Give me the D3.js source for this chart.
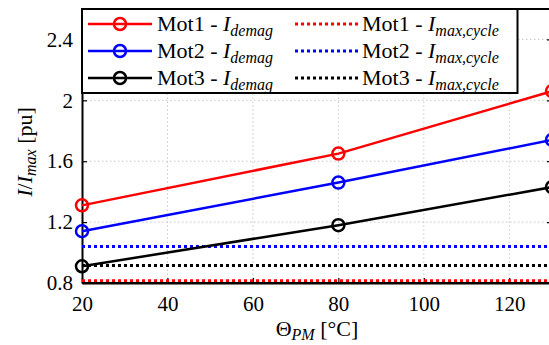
<!DOCTYPE html>
<html lang="en">
	<head>
		<meta charset="utf-8">
		<title>D3: Demag current vs PM temperature</title>
		<script src="https://d3js.org/d3.v7.min.js" charset="utf-8"></script>
		<style type="text/css">
			body { margin: 0; background: white; }
			svg text {
				font-family: "Times New Roman", Tinos, serif;
				font-size: 22px;
				fill: black;
			}
			.grid line {
				stroke: #c8c8c8;
				stroke-width: 1;
				stroke-dasharray: 1.5,2.5;
			}
			.axis path, .axis line { stroke: black; }
			.axis path { stroke-width: 2; }
			.axis line { stroke-width: 1.2; }
		</style>
	</head>
	<body>
		<script type="text/javascript">

			//Width and height
			var w = 549;
			var h = 345;
			var margin = {left: 82, right: -3, top: 9, bottom: 62};
			var serif = "'Times New Roman', Tinos, serif";

			//Data
			var temps = [20, 80, 130];
			var motors = ["Mot1", "Mot2", "Mot3"];
			var colors = ["#ff0000", "#0000ff", "#000000"];
			var demag1 = [1.31, 1.65, 2.06];
			var demag2 = [1.14, 1.46, 1.74];
			var demag3 = [0.91, 1.18, 1.43];
			var maxCycle = [0.815, 1.04, 0.915];
			var xTicks = [20, 40, 60, 80, 100, 120];
			var yTicks = [0.8, 1.2, 1.6, 2, 2.4];

			var demag = [demag1, demag2, demag3];

			var svg = d3.select("body")
						.append("svg")
						.attr("width", w)
						.attr("height", h);

			//Scales
			var xScale = d3.scaleLinear()
						   .domain([20, 130])
						   .range([margin.left, w - margin.right]);

			var yScale = d3.scaleLinear()
						   .domain([0.8, 2.6])
						   .range([h - margin.bottom, margin.top]);

			var x0 = xScale.range()[0], x1 = xScale.range()[1];
			var y0 = yScale.range()[0], y1 = yScale.range()[1];

			//Grid
			var grid = svg.append("g").attr("class", "grid");
			grid.selectAll(".gx")
				.data(xTicks.slice(1))
				.enter()
				.append("line")
				.attr("x1", function(d) { return xScale(d); })
				.attr("x2", function(d) { return xScale(d); })
				.attr("y1", y0)
				.attr("y2", y1);
			grid.selectAll(".gy")
				.data(yTicks.slice(1))
				.enter()
				.append("line")
				.attr("x1", x0)
				.attr("x2", x1)
				.attr("y1", function(d) { return yScale(d); })
				.attr("y2", function(d) { return yScale(d); });

			//Axes (ticks pointing inward)
			var xAxis = d3.axisBottom(xScale)
						  .tickValues(xTicks)
						  .tickSize(-5)
						  .tickSizeOuter(0)
						  .tickPadding(13)
						  .tickFormat(d3.format("d"));

			var yAxis = d3.axisLeft(yScale)
						  .tickValues(yTicks)
						  .tickSize(-5)
						  .tickSizeOuter(0)
						  .tickPadding(9)
						  .tickFormat(function(d) { return d === 2 ? "2" : d3.format(".1f")(d); });

			var yAxisR = d3.axisRight(yScale)
						  .tickValues(yTicks)
						  .tickSize(-5)
						  .tickSizeOuter(0)
						  .tickFormat("");

			svg.append("g")
				.attr("class", "axis")
				.attr("transform", "translate(0," + y0 + ")")
				.call(xAxis);

			svg.append("g")
				.attr("class", "axis")
				.attr("transform", "translate(" + x0 + ",0)")
				.call(yAxis);

			svg.append("g")
				.attr("class", "axis")
				.attr("transform", "translate(" + x1 + ",0)")
				.call(yAxisR);

			svg.selectAll(".axis").attr("font-family", null).attr("font-size", null);
			svg.selectAll(".axis text")
				.style("font-family", serif)
				.style("font-size", "21px");

			//Top frame line
			svg.append("line")
				.attr("x1", x0).attr("x2", x1)
				.attr("y1", y1).attr("y2", y1)
				.style("stroke", "black")
				.style("stroke-width", 2);

			//Max-cycle dotted lines
			svg.selectAll(".maxline")
				.data(maxCycle)
				.enter()
				.append("line")
				.attr("x1", x0)
				.attr("x2", x1)
				.attr("y1", function(d) { return yScale(d); })
				.attr("y2", function(d) { return yScale(d); })
				.style("stroke", function(d, i) { return colors[i]; })
				.style("stroke-width", 3)
				.style("stroke-dasharray", "3,3");

			//Demag lines + markers
			var line = d3.line()
						 .x(function(d, i) { return xScale(temps[i]); })
						 .y(function(d) { return yScale(d); });

			demag.forEach(function(series, k) {
				svg.append("path")
					.datum(series)
					.attr("d", line)
					.style("fill", "none")
					.style("stroke", colors[k])
					.style("stroke-width", 2.5);

				svg.selectAll(".m" + k)
					.data(series)
					.enter()
					.append("circle")
					.attr("cx", function(d, i) { return xScale(temps[i]); })
					.attr("cy", function(d) { return yScale(d); })
					.attr("r", 6)
					.style("fill", "none")
					.style("stroke", colors[k])
					.style("stroke-width", 2.5);
			});

			//Redraw bottom frame over dotted lines
			svg.append("line")
				.attr("x1", x0).attr("x2", x1)
				.attr("y1", y0).attr("y2", y0)
				.style("stroke", "black").style("stroke-width", 2);

			//Legend
			var lg = svg.append("g");
			lg.append("rect")
				.attr("x", 82)
				.attr("y", 9)
				.attr("width", 435.5)
				.attr("height", 84)
				.style("fill", "white")
				.style("stroke", "black")
				.style("stroke-width", 2);

			function labelText(sel, name, sub) {
				sel.append("tspan").text(name + " - ");
				sel.append("tspan").style("font-style", "italic").text("I");
				sel.append("tspan")
					.attr("dy", 5)
					.style("font-style", "italic")
					.style("font-size", "16px")
					.text(sub);
			}

			motors.forEach(function(name, k) {
				var yy = 24 + k * 27;
				lg.append("line")
					.attr("x1", 88).attr("x2", 152)
					.attr("y1", yy).attr("y2", yy)
					.style("stroke", colors[k])
					.style("stroke-width", 2.5);
				lg.append("circle")
					.attr("cx", 120).attr("cy", yy).attr("r", 6)
					.style("fill", "none")
					.style("stroke", colors[k])
					.style("stroke-width", 2.5);
				labelText(lg.append("text").attr("x", 157).attr("y", yy + 7), name, "demag");

				lg.append("line")
					.attr("x1", 295).attr("x2", 358)
					.attr("y1", yy).attr("y2", yy)
					.style("stroke", colors[k])
					.style("stroke-width", 3)
					.style("stroke-dasharray", "3,3");
				labelText(lg.append("text").attr("x", 362).attr("y", yy + 7), name, "max,cycle");
			});

			//Axis labels
			var xl = svg.append("text")
				.attr("x", 317)
				.attr("y", 336)
				.attr("text-anchor", "middle");
			xl.append("tspan").text("\u0398");
			xl.append("tspan").attr("dy", 4).style("font-style", "italic").style("font-size", "16px").text("PM");
			xl.append("tspan").attr("dy", -4).text("  [\u00b0C]");

			var yl = svg.append("text")
				.attr("transform", "translate(32," + 152 + ") rotate(-90)")
				.attr("text-anchor", "middle");
			yl.append("tspan").style("font-style", "italic").text("I");
			yl.append("tspan").text("/");
			yl.append("tspan").style("font-style", "italic").text("I");
			yl.append("tspan").attr("dy", 4).style("font-style", "italic").style("font-size", "16px").text("max");
			yl.append("tspan").attr("dy", -4).text("  [pu]");

		</script>
	</body>
</html>
